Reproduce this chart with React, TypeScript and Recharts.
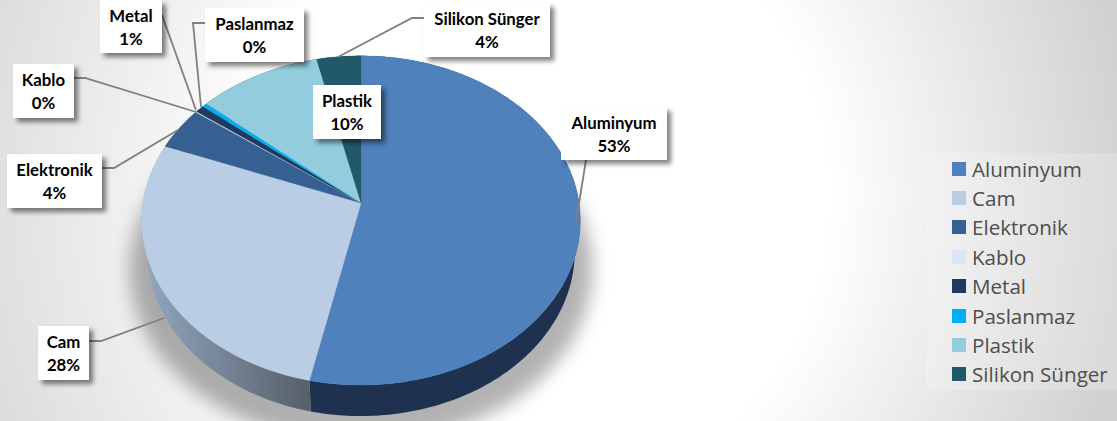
import { Legend, Pie, PieChart } from "recharts";

const materials = ["Aluminyum", "Cam", "Elektronik", "Kablo", "Metal", "Paslanmaz", "Plastik", "Silikon Sünger"];
const shares = [53.4, 27.5, 4.2, 0.1, 0.7, 0.4, 10.1, 3.6];
const colors = ["#4f81bd", "#b9cde5", "#376092", "#dce6f2", "#1f3a60", "#00b0f0", "#93cddd", "#215968"];
const wallColors = ["#1e324f", "url(#camWall)", "#1e324f", "#1e324f", "#1e324f", "#1e324f", "#1e324f", "#1e324f"];

const tableData = materials.map((name, i) => ({ name, value: shares[i], fill: colors[i] }));

// data label boxes and their leader lines, as they sit in the slide
const labelBoxes = [
  { x: 561, y: 107, w: 106, h: 53, leader: "586,160 576,222" },
  { x: 38, y: 326, w: 51, h: 54, leader: "89,341 101,341 164,318" },
  { x: 7, y: 154, w: 95, h: 54, leader: "102,168 114,168 178,130" },
  { x: 13, y: 64, w: 61, h: 54, leader: "74,78 85,78 196,112" },
  { x: 100, y: 0, w: 62, h: 53, leader: "162,15 196,110" },
  { x: 205, y: 8, w: 99, h: 54, leader: "205,23 193,23 201,107" },
  { x: 313, y: 85, w: 68, h: 54, leader: "" },
  { x: 424, y: 3, w: 126, h: 54, leader: "424,18 412,18 338,57" },
];

const TILT = 0.106; // perspective of the disc
const FLATTEN = 0.7466;
const DEPTH = 31;
const BOTTOM_SHRINK = 0.975;

// maps a point of the flat pie to the tilted disc
function project(cx: number, cy: number, r: number, deg: number) {
  const rad = (deg * Math.PI) / 180;
  const u = Math.cos(rad);
  const v = Math.sin(rad);
  const d = 1 + TILT * v;
  return { x: cx + (r * u) / d, y: cy - (r * FLATTEN * v) / d };
}

function arcPoints(cx: number, cy: number, r: number, start: number, end: number) {
  const steps = Math.max(2, Math.ceil(Math.abs(end - start)));
  const pts = [];
  for (let i = 0; i <= steps; i++) {
    pts.push(project(cx, cy, r, start + ((end - start) * i) / steps));
  }
  return pts;
}

const toPath = (pts: { x: number; y: number }[]) =>
  pts.map((p, i) => `${i === 0 ? "M" : "L"}${p.x.toFixed(2)},${p.y.toFixed(2)}`).join(" ") + " Z";

function TopFace(props: any) {
  const { cx, cy, outerRadius, startAngle, endAngle, fill } = props;
  const pts = [{ x: cx, y: cy }, ...arcPoints(cx, cy, outerRadius, startAngle, endAngle)];
  return <path d={toPath(pts)} fill={fill} stroke={fill} strokeWidth={0.3} />;
}

function SideWall(props: any) {
  const { cx, cy, outerRadius, startAngle, endAngle, index } = props;
  const top = arcPoints(cx, cy, outerRadius, startAngle, endAngle);
  const bottom = top.map((p) => ({ x: cx + (p.x - cx) * BOTTOM_SHRINK, y: p.y + DEPTH })).reverse();
  const floor = arcPoints(cx, cy + 48, outerRadius * 1.055, 0, 360);
  return (
    <g>
      {index === 0 && <path d={toPath(floor)} fill="#000" fillOpacity={0.3} filter="url(#floorBlur)" />}
      <path d={toPath([...top, ...bottom])} fill={wallColors[index]} />
    </g>
  );
}

function DataLabel(props: any) {
  const { index, name, percent } = props;
  const box = labelBoxes[index];
  const mid = box.x + box.w / 2;
  return (
    <g>
      {box.leader && <polyline points={box.leader} fill="none" stroke="#7f7f7f" strokeWidth={1.8} />}
      <rect x={box.x} y={box.y} width={box.w} height={box.h} fill="#fff" filter="url(#boxShadow)" />
      <text x={mid} y={box.y + 22} textAnchor="middle" fontFamily="Lato" fontWeight={700} fontSize={16.8} fill="#000">
        {name}
      </text>
      <text x={mid} y={box.y + 45} textAnchor="middle" fontFamily="Lato" fontWeight={700} fontSize={16.8} fill="#000">
        {Math.round(percent * 100)}%
      </text>
    </g>
  );
}

function LegendList({ payload }: any) {
  const rows = (payload ?? []).filter((entry: any) => entry.type !== "none");
  return (
    <div style={{ paddingTop: 1 }}>
      {rows.map((entry: any) => (
        <div key={entry.value} style={{ display: "flex", alignItems: "center", height: 29.4, paddingLeft: 26 }}>
          <span style={{ width: 14, height: 14, background: entry.color, marginRight: 6, flex: "none" }} />
          <span style={{ fontFamily: "Open Sans", fontSize: 20.6, color: "#4d4d4d", whiteSpace: "nowrap" }}>{entry.value}</span>
        </div>
      ))}
    </div>
  );
}

export default function App() {
  return (
    <div
      style={{
        position: "absolute",
        left: 0,
        top: 0,
        width: 1117,
        height: 421,
        overflow: "hidden",
        background:
          "radial-gradient(ellipse 780px 800px at 540px 195px, #fff 37%, #c4c4c4 100%) left top / 540px 100% no-repeat, radial-gradient(ellipse 600px 625px at 540px 195px, #fff 48%, #d0d0d0 100%)",
      }}
    >
      <PieChart width={1117} height={421} margin={{ top: 0, right: 0, bottom: 0, left: 0 }}>
        <defs>
          <linearGradient id="camWall" x1="0" y1="0" x2="1" y2="0">
            <stop offset="0%" stopColor="#93a7c0" />
            <stop offset="100%" stopColor="#565f69" />
          </linearGradient>
          <filter id="floorBlur" x="-10%" y="-10%" width="120%" height="120%">
            <feGaussianBlur stdDeviation="9" />
          </filter>
          <filter id="boxShadow" x="-20%" y="-20%" width="150%" height="160%">
            <feDropShadow dx="4" dy="4" stdDeviation="2.5" floodColor="#000" floodOpacity="0.5" />
          </filter>
        </defs>
        <Pie
          data={tableData}
          dataKey="value"
          nameKey="name"
          cx={361}
          cy={203}
          outerRadius={218}
          startAngle={90}
          endAngle={-270}
          legendType="none"
          shape={SideWall}
          isAnimationActive={false}
        />
        <Pie
          data={tableData}
          dataKey="value"
          nameKey="name"
          cx={361}
          cy={203}
          outerRadius={218}
          startAngle={90}
          endAngle={-270}
          shape={TopFace}
          label={DataLabel}
          labelLine={false}
          isAnimationActive={false}
        />
        <Legend
          content={<LegendList />}
          itemSorter={null}
          layout="vertical"
          wrapperStyle={{ position: "absolute", left: 926, top: 153, width: 191, height: 237, background: "rgba(255,255,255,0.2)" }}
        />
      </PieChart>
    </div>
  );
}
